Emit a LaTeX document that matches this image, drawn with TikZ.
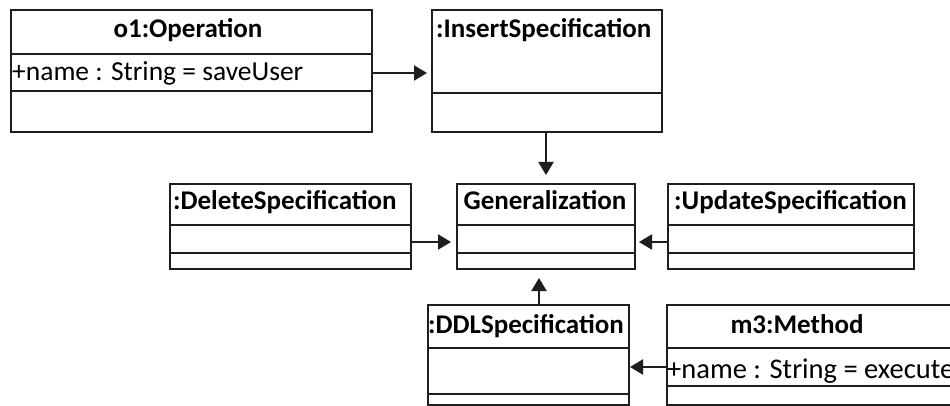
\documentclass[tikz,border=0pt]{standalone}
\usepackage{fontspec}
\setmainfont{Carlito}
\usetikzlibrary{arrows.meta}
\definecolor{ln}{HTML}{1E1E1E}
\tikzset{
  umlbox/.style={draw=ln, line width=2pt, rectangle, inner sep=0pt, anchor=north west},
  ttl/.style={font=\fontsize{27}{32}\selectfont\bfseries, anchor=base, inner sep=0pt},
  ttlw/.style={font=\fontsize{27}{32}\selectfont\bfseries, anchor=base west, inner sep=0pt},
  attr/.style={font=\fontsize{27.5}{32}\selectfont, anchor=base west, inner sep=0pt},
  divider/.style={draw=ln, line width=2pt},
  arr/.style={draw=ln, line width=2pt, -{Triangle[length=13pt,width=15pt]}}
}
\begin{document}
\begin{tikzpicture}[x=1pt,y=-1pt]
\useasboundingbox (0,0) rectangle (950,406);
\clip (0,0) rectangle (950,406);
\fill[white] (0,0) rectangle (950,406);
% boxes
\node[umlbox, minimum width=361pt, minimum height=122pt] (o1) at (10,9) {};
\node[umlbox, minimum width=230pt, minimum height=122pt] (ins) at (431,9) {};
\node[umlbox, minimum width=241pt, minimum height=85pt] (del) at (169,183) {};
\node[umlbox, minimum width=178pt, minimum height=85pt] (gen) at (456,183) {};
\node[umlbox, minimum width=246pt, minimum height=85pt] (upd) at (667,183) {};
\node[umlbox, minimum width=201pt, minimum height=100pt] (ddl) at (427,304) {};
\node[umlbox, minimum width=300pt, minimum height=100pt] (m3) at (666,304) {};
% dividers
\draw[divider] (o1.west |- 0,54) -- (o1.east |- 0,54);
\draw[divider] (o1.west |- 0,91) -- (o1.east |- 0,91);
\draw[divider] (ins.west |- 0,93) -- (ins.east |- 0,93);
\draw[divider] (del.west |- 0,225) -- (del.east |- 0,225);
\draw[divider] (del.west |- 0,253) -- (del.east |- 0,253);
\draw[divider] (gen.west |- 0,225) -- (gen.east |- 0,225);
\draw[divider] (gen.west |- 0,253) -- (gen.east |- 0,253);
\draw[divider] (upd.west |- 0,225) -- (upd.east |- 0,225);
\draw[divider] (upd.west |- 0,253) -- (upd.east |- 0,253);
\draw[divider] (ddl.west |- 0,348) -- (ddl.east |- 0,348);
\draw[divider] (ddl.west |- 0,394) -- (ddl.east |- 0,394);
\draw[divider] (m3.west |- 0,348) -- (m3.east |- 0,348);
\draw[divider] (m3.west |- 0,386) -- (m3.east |- 0,386);
% texts
\node[ttl] (o1t) at (188,38) {o1:Operation};
\node[attr] (o1a) at (12,81) {+name : String = saveUser};
\node[ttlw] (inst) at (436,38) {:InsertSpecification};
\node[ttlw] (delt) at (173,210) {:DeleteSpecification};
\node[ttl] (gent) at (545,210) {Generalization};
\node[ttlw] (updt) at (674,210) {:UpdateSpecification};
\node[ttlw] (ddlt) at (428,333) {:DDLSpecification};
\node[ttl] (m3t) at (797,333) {m3:Method};
\node[attr, font=\fontsize{28.5}{32}\selectfont] (m3a) at (667,378) {+name : String = execute};
% connectors
\draw[arr, shorten >=4pt] (o1.east |- 0,73) -- (ins.west |- 0,73);
\draw[arr, shorten >=8pt] (ins.south -| 546,0) -- (gen.north -| 546,0);
\draw[arr, shorten >=5pt] (del.east |- 0,242) -- (gen.west |- 0,242);
\draw[arr, shorten >=3pt] (upd.west |- 0,242) -- (gen.east |- 0,242);
\draw[arr, shorten >=8pt] (ddl.north -| 539,0) -- (gen.south -| 539,0);
\draw[arr] (m3.west |- 0,367) -- (ddl.east |- 0,367);
\end{tikzpicture}
\end{document}
